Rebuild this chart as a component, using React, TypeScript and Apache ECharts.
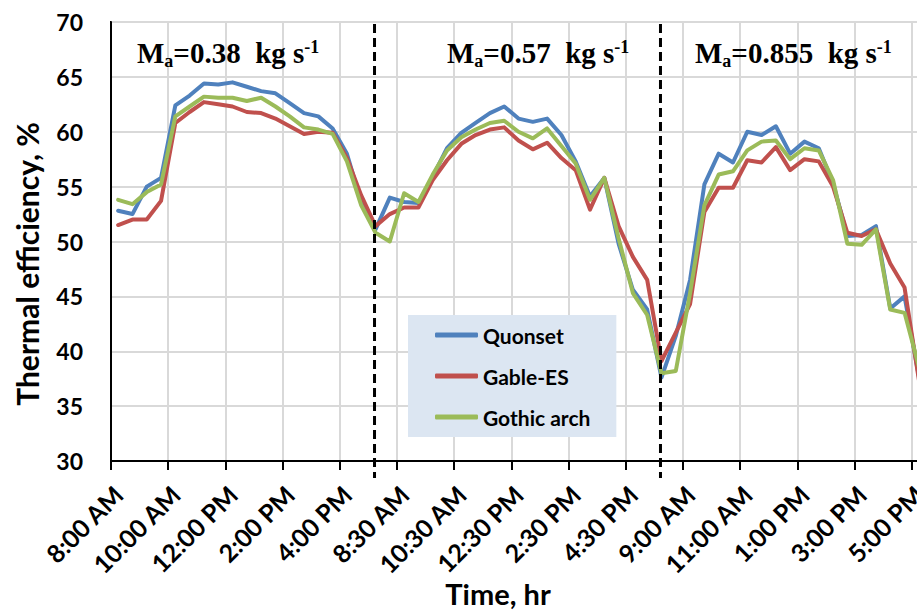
import React, { useEffect, useRef } from "react";
import * as echarts from "echarts";

const dayTimes = [
  "8:00 AM", "8:30 AM", "9:00 AM", "9:30 AM", "10:00 AM", "10:30 AM", "11:00 AM", "11:30 AM",
  "12:00 PM", "12:30 PM", "1:00 PM", "1:30 PM", "2:00 PM", "2:30 PM", "3:00 PM", "3:30 PM",
  "4:00 PM", "4:30 PM", "5:00 PM",
];
const categories = [...dayTimes, ...dayTimes, ...dayTimes];

const quonset = [
  52.8, 52.5, 55.0, 55.8, 62.4, 63.3, 64.4, 64.3, 64.5, 64.1, 63.7, 63.5, 62.6, 61.7, 61.4, 60.3, 58.0, 53.6, 51.1,
  54.0, 53.6, 53.5, 55.9, 58.5, 59.9, 60.8, 61.7, 62.3, 61.2, 60.9, 61.2, 59.7, 57.3, 54.1, 55.8, 49.8, 45.6, 43.8, 37.6,
  41.4, 46.5, 55.2, 58.0, 57.2, 60.0, 59.7, 60.5, 58.0, 59.1, 58.5, 55.3, 50.5, 50.6, 51.4, 43.9, 45.0, 37.7,
];
const gableES = [
  51.5, 52.0, 52.0, 53.7, 60.8, 61.8, 62.7, 62.5, 62.3, 61.8, 61.7, 61.2, 60.5, 59.8, 60.0, 59.9, 57.6, 54.2, 51.4,
  52.5, 53.1, 53.1, 55.6, 57.4, 58.9, 59.7, 60.2, 60.4, 59.2, 58.4, 59.0, 57.6, 56.5, 52.9, 55.8, 51.4, 48.6, 46.5, 39.1,
  41.7, 44.3, 52.7, 54.9, 54.9, 57.4, 57.2, 58.6, 56.5, 57.5, 57.3, 55.0, 50.8, 50.5, 51.1, 48.0, 45.8, 37.4,
];
const gothicArch = [
  53.8, 53.4, 54.5, 55.2, 61.4, 62.3, 63.2, 63.1, 63.1, 62.8, 63.1, 62.3, 61.4, 60.4, 60.2, 59.8, 57.3, 53.3, 50.8,
  50.0, 54.4, 53.6, 56.1, 58.3, 59.5, 60.2, 60.8, 61.0, 60.0, 59.4, 60.3, 58.7, 57.1, 53.8, 55.8, 50.3, 45.3, 43.3, 38.0,
  38.2, 45.3, 53.3, 56.1, 56.4, 58.3, 59.1, 59.2, 57.5, 58.5, 58.3, 55.6, 49.8, 49.7, 51.1, 43.8, 43.5, 38.6,
];
const seriesNames = ["Quonset", "Gable-ES", "Gothic arch"];
const seriesColors = ["#4f81bd", "#c0504d", "#9bbb59"];
const dividerIndices = [18, 38];
const flowRates = ["0.38", "0.57", "0.855"];

const SANS = "Lato";
const SERIF = "Liberation Serif";

export default function App() {
  const ref = useRef<HTMLDivElement>(null);
  useEffect(() => {
    if (!ref.current) return;
    const chart = echarts.init(ref.current, undefined, { renderer: "svg" });
    const values = [quonset, gableES, gothicArch];
    chart.setOption({
      animation: false,
      backgroundColor: "#ffffff",
      grid: {
        left: 111, top: 22, width: 815, height: 439,
        show: true, borderColor: "#000", borderWidth: 2, backgroundColor: "transparent",
      },
      legend: {
        left: 408, top: 315, orient: "vertical",
        backgroundColor: "#dce6f2",
        padding: [8, 26, 8, 27],
        itemGap: 17, itemWidth: 43, itemHeight: 5, icon: "roundRect",
        textStyle: { fontFamily: SANS, fontWeight: "bold", fontSize: 21, color: "#000", lineHeight: 24 },
        data: seriesNames,
        z: 20,
      },
      xAxis: {
        type: "category", data: categories, boundaryGap: true,
        axisLine: { lineStyle: { color: "#000", width: 2 } },
        axisTick: { show: true, interval: 3, length: 9, lineStyle: { color: "#000", width: 2 } },
        axisLabel: {
          interval: 3, rotate: 45, margin: 29, color: "#000",
          fontFamily: SANS, fontWeight: "bold", fontSize: 25,
        },
        splitLine: { show: true, interval: 3, lineStyle: { color: "#d9d9d9", width: 2 } },
      },
      yAxis: {
        type: "value", min: 30, max: 70, interval: 5,
        axisLine: { show: true, lineStyle: { color: "#000", width: 2 } },
        axisTick: { show: false },
        axisLabel: { margin: 28, color: "#000", fontFamily: SANS, fontWeight: "bold", fontSize: 23 },
        splitLine: { show: true, lineStyle: { color: "#d9d9d9", width: 2 } },
      },
      series: seriesNames.map((n, i) => ({
        name: n, type: "line", data: values[i], symbol: "none", showSymbol: false,
        color: seriesColors[i],
        lineStyle: { width: 4, color: seriesColors[i], cap: "round", join: "round" },
        z: 2 + i,
      })),
    });

    const ctx = document.createElement("canvas").getContext("2d")!;
    const measure = (t: string, size: number) => {
      ctx.font = `bold ${size}px "${SERIF}"`;
      return ctx.measureText(t).width;
    };
    const MAIN = 29, SMALL = 18;
    const baseMain = 63, baseSub = 67, baseSup = 53;
    const mid = (base: number, size: number) => base - 0.34 * size;
    const annX = [137, 447, 695];
    const graphics: any[] = [];
    flowRates.forEach((r, i) => {
      const parts = [
        { t: "M", size: MAIN, base: baseMain, gapAfter: 0 },
        { t: "a", size: SMALL, base: baseSub, gapAfter: 0 },
        { t: "=" + r, size: MAIN, base: baseMain, gapAfter: 2 * measure(" ", MAIN) },
        { t: "kg s", size: MAIN, base: baseMain, gapAfter: 0 },
        { t: "-1", size: SMALL, base: baseSup, gapAfter: 0 },
      ];
      let x = annX[i];
      parts.forEach((p, j) => {
        graphics.push({
          type: "text", id: `ann${i}_${j}`, z: 15, x, y: mid(p.base, p.size),
          style: {
            text: p.t, align: "left", verticalAlign: "middle",
            fontFamily: SERIF, fontWeight: "bold", fontSize: p.size, fill: "#000",
          },
        });
        x += measure(p.t, p.size) + p.gapAfter;
      });
    });
    dividerIndices.forEach((idx, i) => {
      const px = chart.convertToPixel({ xAxisIndex: 0 }, idx) as number;
      graphics.push({
        type: "line", id: "div" + i, z: 12,
        shape: { x1: px - 1, y1: 24, x2: px - 1, y2: 478 },
        style: { stroke: "#000", lineWidth: 3, lineDash: [9, 5] },
      });
    });
    graphics.push({
      type: "text", id: "ytitle", z: 15, x: 27, y: 264, rotation: Math.PI / 2,
      style: {
        text: "Thermal efficiency, %", align: "center", verticalAlign: "middle",
        fontFamily: SANS, fontWeight: "bold", fontSize: 30, fill: "#000",
      },
    });
    graphics.push({
      type: "text", id: "xtitle", z: 15, x: 498, y: 593,
      style: {
        text: "Time, hr", align: "center", verticalAlign: "middle",
        fontFamily: SANS, fontWeight: "bold", fontSize: 29, fill: "#000",
      },
    });
    chart.setOption({ graphic: graphics });
    return () => chart.dispose();
  }, []);
  return (
    <div style={{ position: "fixed", left: 0, top: 0, width: 917, height: 612, overflow: "hidden" }}>
      <div ref={ref} style={{ width: 940, height: 612 }} />
    </div>
  );
}
